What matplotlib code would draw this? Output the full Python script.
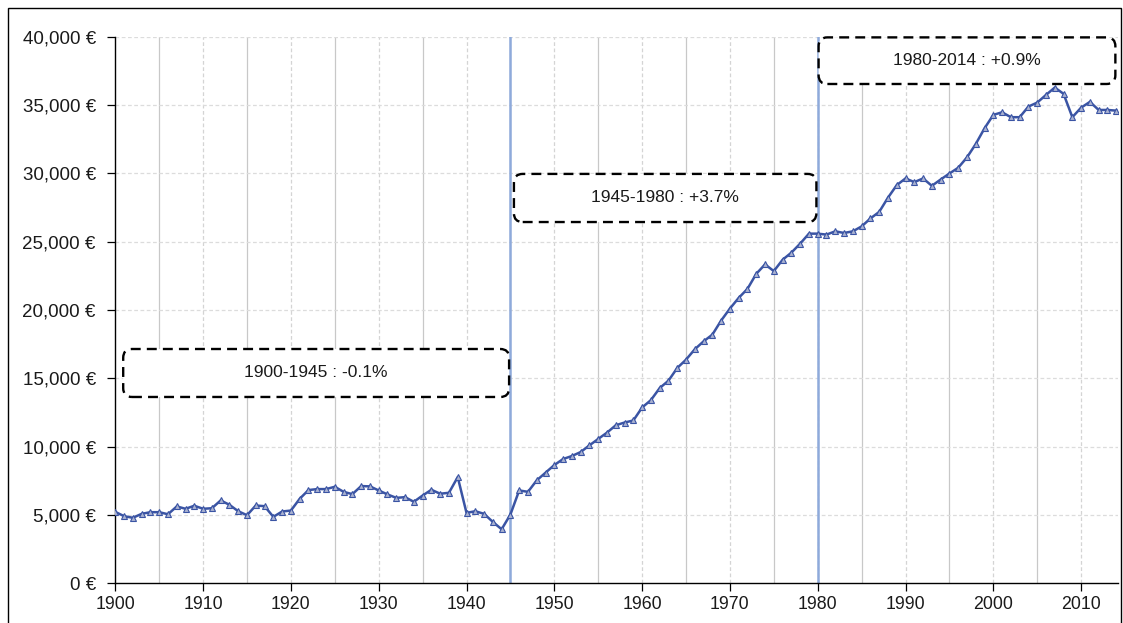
import matplotlib
matplotlib.use("Agg")
import matplotlib.pyplot as plt
import numpy as np
from matplotlib.patches import FancyBboxPatch, Rectangle
from matplotlib.ticker import FuncFormatter, MultipleLocator

plt.rcParams['font.family'] = ['Liberation Sans', 'DejaVu Sans']

# valeurs (euros)
annees = np.arange(1900, 2015)
valeurs = [
    5230, 4920, 4800, 5090, 5210, 5210, 5060, 5630, 5460, 5680,   # 1900-1909
    5460, 5500, 6070, 5750, 5280, 4990, 5700, 5650, 4870, 5260,   # 1910-1919
    5330, 6190, 6830, 6900, 6900, 7070, 6700, 6530, 7120, 7100,   # 1920-1929
    6800, 6510, 6260, 6310, 5970, 6430, 6850, 6560, 6630, 7780,   # 1930-1939
    5160, 5280, 5090, 4500, 3960, 5040, 6800, 6700, 7540, 8100,   # 1940-1949
    8660, 9100, 9320, 9610, 10100, 10570, 11030, 11570, 11770, 11920,  # 1950-1959
    12870, 13410, 14290, 14830, 15760, 16370, 17130, 17710, 18200, 19230,  # 1960-1969
    20110, 20890, 21550, 22650, 23340, 22850, 23680, 24200, 24860, 25590,  # 1970-1979
    25590, 25520, 25760, 25640, 25760, 26120, 26700, 27180, 28220, 29140,  # 1980-1989
    29630, 29360, 29630, 29090, 29550, 29990, 30410, 31170, 32150, 33300,  # 1990-1999
    34280, 34470, 34110, 34110, 34890, 35180, 35740, 36280, 35820, 34110,  # 2000-2009
    34810, 35230, 34640, 34640, 34590,                                     # 2010-2014
]
ruptures = [1945, 1980]
periodes = ["1900-1945 : -0.1%", "1945-1980 : +3.7%", "1980-2014 : +0.9%"]

fig = plt.figure(figsize=(11.23, 6.23), dpi=100)
W, H = 1123, 623
ax = fig.add_axes([115.3 / W, (H - 583.4) / H, (1118 - 115.3) / W, (583.4 - 36.7) / H])

# cadre de la zone du graphique
fig.patches.append(Rectangle((8 / W, -0.1), (1121 - 8) / W, 1.1 - 8 / H,
                             transform=fig.transFigure, fill=False,
                             edgecolor='black', linewidth=1.0))

ax.set_xlim(1900, 2014.2)
ax.set_ylim(0, 40000)

# grille
for a in range(1905, 2015, 10):
    ax.axvline(a, color='#c8c8c8', linewidth=0.9, zorder=0)
for a in range(1910, 2015, 10):
    ax.axvline(a, color='#d4d4d4', linewidth=0.9, linestyle=(0, (3, 2)), zorder=0)
for v in range(5000, 40001, 5000):
    ax.axhline(v, color='#dcdcdc', linewidth=0.9, linestyle=(0, (3, 2)), zorder=0)

for r in ruptures:
    ax.axvline(r, color='#8eaadb', linewidth=1.8, zorder=1)

ax.plot(annees, valeurs, color='#3a54a4', linewidth=1.8, marker='^',
        markersize=4.8, markerfacecolor='#aab2d0', markeredgecolor='#3a54a4',
        markeredgewidth=0.8, zorder=3)

ax.xaxis.set_major_locator(MultipleLocator(10))
ax.yaxis.set_major_locator(MultipleLocator(5000))
ax.yaxis.set_major_formatter(FuncFormatter(lambda v, p: f"{v:,.0f} €"))
ax.tick_params(axis='both', direction='out', length=6, width=0.9,
               colors='black', labelcolor='#1a1a1a')
ax.tick_params(axis='x', labelsize=12.8, pad=3)
ax.tick_params(axis='y', labelsize=13.5, pad=8)
for s in ['top', 'right']:
    ax.spines[s].set_visible(False)
for s in ['left', 'bottom']:
    ax.spines[s].set_linewidth(1.0)

# boîtes des périodes (années, euros)
boites = [(1900.9, 1944.85, 13640, 17150),
          (1945.4, 1979.85, 26440, 29960),
          (1980.1, 2013.9, 36540, 39950)]
fig.canvas.draw()
px_x = ax.transData.transform((1, 0))[0] - ax.transData.transform((0, 0))[0]
px_y = ax.transData.transform((0, 1))[1] - ax.transData.transform((0, 0))[1]
aspect = px_x / px_y
for (x0, x1, y0, y1), txt in zip(boites, periodes):
    p = FancyBboxPatch((x0, y0), x1 - x0, y1 - y0,
                       boxstyle="round,pad=0,rounding_size=1.0",
                       mutation_aspect=aspect, fill=True, facecolor='white',
                       edgecolor='black', linewidth=1.7,
                       linestyle=(0, (4.2, 2.6)), zorder=4, clip_on=False)
    ax.add_patch(p)
    ax.text((x0 + x1) / 2, (y0 + y1) / 2, txt, ha='center', va='center',
            fontsize=12.5, color='#1a1a1a', zorder=5)

fig.savefig("out.png", dpi=100)
